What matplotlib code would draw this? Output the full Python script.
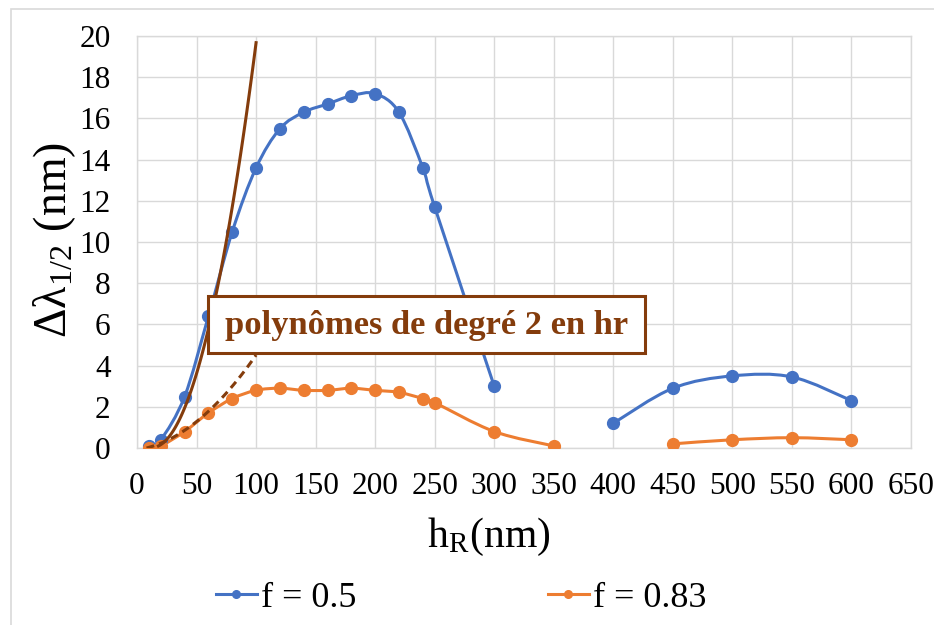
import numpy as np
import matplotlib
matplotlib.use('Agg')
import matplotlib.pyplot as plt
from matplotlib.path import Path
from matplotlib.patches import PathPatch, Rectangle
from matplotlib.lines import Line2D

plt.rcParams['font.family'] = ['Liberation Serif', 'DejaVu Serif']
plt.rcParams['mathtext.fontset'] = 'stix'

# data
h_r = [10, 20, 40, 60, 80, 100, 120, 140, 160, 180, 200, 220, 240, 250,
       300, 350, 400, 450, 500, 550, 600]
dl_f05 = [0.1, 0.4, 2.5, 6.4, 10.5, 13.6, 15.5, 16.3, 16.7, 17.1, 17.2, 16.3,
          13.6, 11.7, 3.0, np.nan, 1.2, 2.9, 3.5, 3.45, 2.3]
dl_f083 = [0.0, 0.1, 0.8, 1.7, 2.4, 2.8, 2.9, 2.8, 2.8, 2.9, 2.8, 2.7,
           2.4, 2.2, 0.8, 0.1, np.nan, 0.2, 0.4, 0.5, 0.4]

# degree-2 trend polynomials (coefficients a, b, c) and their x range
poly_f05 = [0.00258, -0.0657, 0.446]
poly_f05_range = [18, 100]
poly_f083 = [0.000371, 0.009, -0.096]
poly_f083_range = [8, 100]

blue = '#4472C4'
orange = '#ED7D31'
brown = '#843C0C'
grid_c = '#D9D9D9'


def smooth_path(xs, ys):
    # excel-like smoothed line: bezier segments through each run of points
    xs = np.asarray(xs, float)
    ys = np.asarray(ys, float)
    ok = ~np.isnan(ys)
    verts, codes = [], []
    runs = []
    cur = []
    for i in range(len(xs)):
        if ok[i]:
            cur.append((xs[i], ys[i]))
        elif cur:
            runs.append(cur)
            cur = []
    if cur:
        runs.append(cur)
    for run in runs:
        p = np.array(run)
        n = len(p)
        verts.append(p[0])
        codes.append(Path.MOVETO)
        for i in range(n - 1):
            p0 = p[max(i - 1, 0)]
            p1 = p[i]
            p2 = p[i + 1]
            p3 = p[min(i + 2, n - 1)]
            c1 = p1 + (p2 - p0) / 6
            c2 = p2 - (p3 - p1) / 6
            verts += [c1, c2, p2]
            codes += [Path.CURVE4] * 3
    return Path(verts, codes)


fig = plt.figure(figsize=(9.34, 6.25), dpi=100)
ax = fig.add_axes([137 / 934, 1 - 448 / 625, 774 / 934, 412 / 625])

lw = 2.2
ms = 8.5
for ys, col in [(dl_f05, blue), (dl_f083, orange)]:
    ax.add_patch(PathPatch(smooth_path(h_r, ys), fill=False, edgecolor=col,
                           lw=lw, capstyle='round', joinstyle='round', zorder=3))
    ax.plot(h_r, ys, 'o', ms=ms, color=col, zorder=4)

xs = np.linspace(poly_f05_range[0], poly_f05_range[1], 100)
ax.plot(xs, np.polyval(poly_f05, xs), color=brown, lw=lw, zorder=5)
xs = np.linspace(poly_f083_range[0], poly_f083_range[1], 100)
ax.plot(xs, np.polyval(poly_f083, xs), color=brown, lw=lw, ls=(0, (2.6, 1.7)), zorder=5)

# annotation box
ax.add_patch(Rectangle((59.6, 4.61), 366.9, 2.77, fc='white', ec=brown,
                       lw=2.2, zorder=6))
ax.text(243, 5.97, 'polynômes de degré 2 en hr', color=brown, fontsize=24.8,
        fontweight='bold', ha='center', va='center', zorder=7)

ax.set_xlim(0, 650)
ax.set_ylim(0, 20)
ax.set_xticks(np.arange(0, 651, 50))
ax.set_yticks(np.arange(0, 21, 2))
ax.grid(True, color=grid_c, lw=1.0)
ax.set_axisbelow(True)
for s in ax.spines.values():
    s.set_color(grid_c)
    s.set_linewidth(1.0)
ax.tick_params(length=0, labelsize=22.5)
ax.tick_params(axis='y', pad=19)
ax.tick_params(axis='x', pad=17)

ax.set_xlabel(r'h$_\mathregular{R}$(nm)', fontsize=30)
ax.xaxis.set_label_coords(0.455, -0.165)
ax.set_ylabel(r'Δλ$_\mathregular{1/2}$ (nm)', fontsize=33)
ax.yaxis.set_label_coords(-0.076, 0.505)

handles = [Line2D([], [], color=blue, lw=2.2, marker='o', ms=5.5),
           Line2D([], [], color=orange, lw=2.2, marker='o', ms=5.5)]
fig.legend(handles, ['f = 0.5', 'f = 0.83'], loc='center',
           bbox_to_anchor=(461 / 934, 1 - 598 / 625), ncol=2, frameon=False,
           fontsize=26, handlelength=1.15, handletextpad=0.1, columnspacing=5.3)

fig.patches.append(Rectangle((11 / 934, -0.1), 1.2, 1.1 - 9 / 625,
                             transform=fig.transFigure, fill=False,
                             ec=grid_c, lw=1.2, zorder=0))

fig.savefig('out.png', dpi=100)
